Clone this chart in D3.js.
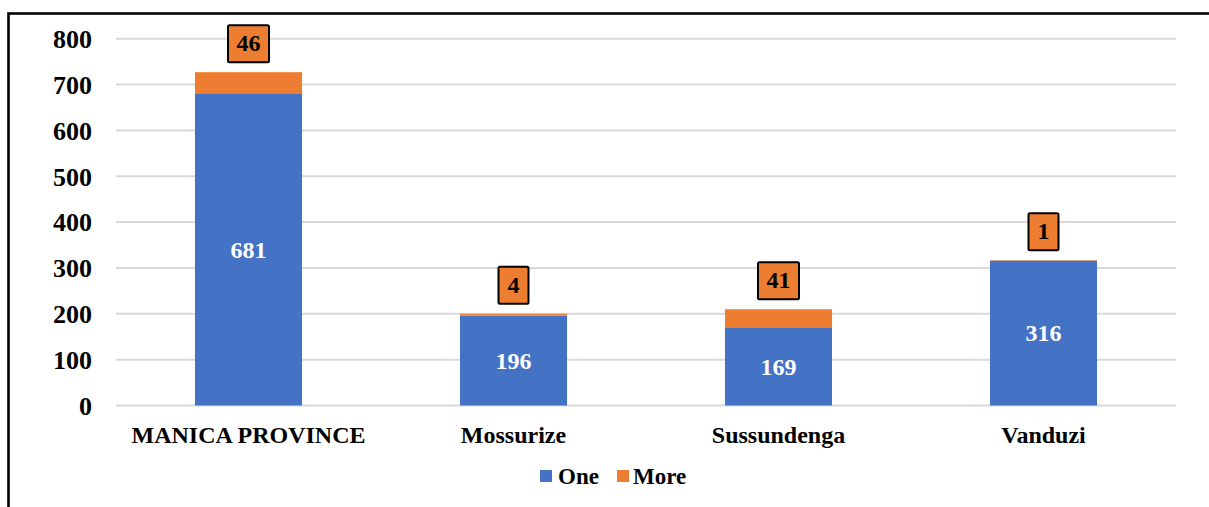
<!DOCTYPE html>
<html>
<head>
<meta charset="utf-8">
<script src="https://cdn.jsdelivr.net/npm/d3@7/dist/d3.min.js"></script>
<style>
  html, body { margin: 0; padding: 0; background: #fff; }
  svg { display: block; }
  text { font-family: "Liberation Serif", "Times New Roman", serif; font-weight: bold; }
</style>
</head>
<body>
<svg id="chart" width="1209" height="507"></svg>
<script>
// Households by number of members affected, per district
const categories = ["MANICA PROVINCE", "Mossurize", "Sussundenga", "Vanduzi"];
const oneValues = [681, 196, 169, 316];
const moreValues = [46, 4, 41, 1];
const seriesNames = ["One", "More"];
const seriesColors = ["#4472C4", "#ED7D31"];
const yTicks = [0, 100, 200, 300, 400, 500, 600, 700, 800];

const svg = d3.select("#chart");
const W = 1209, H = 507;

// Frame around the chart area (right and bottom edges fall outside the view)
svg.append("rect")
  .attr("x", 8.5).attr("y", 13.5)
  .attr("width", W + 20).attr("height", H + 20)
  .attr("fill", "none").attr("stroke", "#000").attr("stroke-width", 2.6);

const plot = { left: 116, right: 1176, top: 38.7, bottom: 405.5 };

const x = d3.scaleBand().domain(categories).range([plot.left, plot.right]).padding(0);
const y = d3.scaleLinear().domain([0, 800]).range([plot.bottom, plot.top]);
const barW = x.bandwidth() * 0.404;

// Gridlines
svg.append("g").selectAll("line").data(yTicks).join("line")
  .attr("x1", plot.left).attr("x2", plot.right)
  .attr("y1", d => y(d)).attr("y2", d => y(d))
  .attr("stroke", "#d9d9d9").attr("stroke-width", 2);

// Y axis labels
const yAxis = d3.axisLeft(y).tickValues(yTicks).tickSize(0).tickPadding(0);
const yg = svg.append("g").attr("transform", "translate(92,0)").call(yAxis);
yg.select(".domain").remove();
yg.selectAll("text")
  .attr("font-size", 26).attr("fill", "#000")
  .attr("font-family", "Liberation Serif, Times New Roman, serif")
  .attr("font-weight", "bold")
  .attr("dy", "0.34em");

// Category labels
const xAxis = d3.axisBottom(x).tickSize(0).tickPadding(0);
const xg = svg.append("g").attr("transform", `translate(0,${plot.bottom})`).call(xAxis);
xg.select(".domain").remove();
xg.selectAll("text")
  .attr("font-size", 24).attr("fill", "#000")
  .attr("font-family", "Liberation Serif, Times New Roman, serif")
  .attr("font-weight", "bold")
  .attr("y", 37).attr("dy", 0);

// Stacked data
const rows = categories.map((c, i) => ({ cat: c, One: oneValues[i], More: moreValues[i] }));
const stacked = d3.stack().keys(seriesNames)(rows);

const bars = svg.append("g");
stacked.forEach((layer, li) => {
  bars.append("g").selectAll("rect").data(layer).join("rect")
    .attr("x", d => x(d.data.cat) + (x.bandwidth() - barW) / 2)
    .attr("width", barW)
    .attr("y", d => y(d[1]))
    .attr("height", d => y(d[0]) - y(d[1]))
    .attr("fill", seriesColors[li]);
});

// Labels inside the blue segments
svg.append("g").selectAll("text").data(stacked[0]).join("text")
  .attr("x", d => x(d.data.cat) + x.bandwidth() / 2)
  .attr("y", d => (y(d[0]) + y(d[1])) / 2)
  .attr("dy", "0.35em")
  .attr("text-anchor", "middle")
  .attr("font-size", 24).attr("fill", "#fff")
  .text(d => d.data.One);

// Boxed labels above the orange segments
const boxG = svg.append("g").selectAll("g").data(stacked[1]).join("g")
  .attr("transform", d => `translate(${x(d.data.cat) + x.bandwidth() / 2},${y(d[1]) - 10})`);
boxG.each(function(d) {
  const g = d3.select(this);
  const t = g.append("text")
    .attr("text-anchor", "middle")
    .attr("font-size", 24).attr("fill", "#000")
    .attr("y", -11)
    .text(d.data.More);
  const tw = t.node().getComputedTextLength();
  const bw = Math.max(30, tw + 17), bh = 37;
  g.insert("rect", "text")
    .attr("x", -bw / 2).attr("y", -bh)
    .attr("width", bw).attr("height", bh)
    .attr("rx", 1.5)
    .attr("fill", seriesColors[1])
    .attr("stroke", "#000").attr("stroke-width", 2);
});

// Legend
const legend = svg.append("g");
const legendItems = [
  { name: seriesNames[0], color: seriesColors[0], sx: 540, tx: 558 },
  { name: seriesNames[1], color: seriesColors[1], sx: 617, tx: 633 }
];
legendItems.forEach(it => {
  legend.append("rect").attr("x", it.sx).attr("y", 470).attr("width", 12).attr("height", 12).attr("fill", it.color);
  legend.append("text").attr("x", it.tx).attr("y", 484)
    .attr("font-size", 23).attr("fill", "#000").text(it.name);
});
</script>
</body>
</html>
